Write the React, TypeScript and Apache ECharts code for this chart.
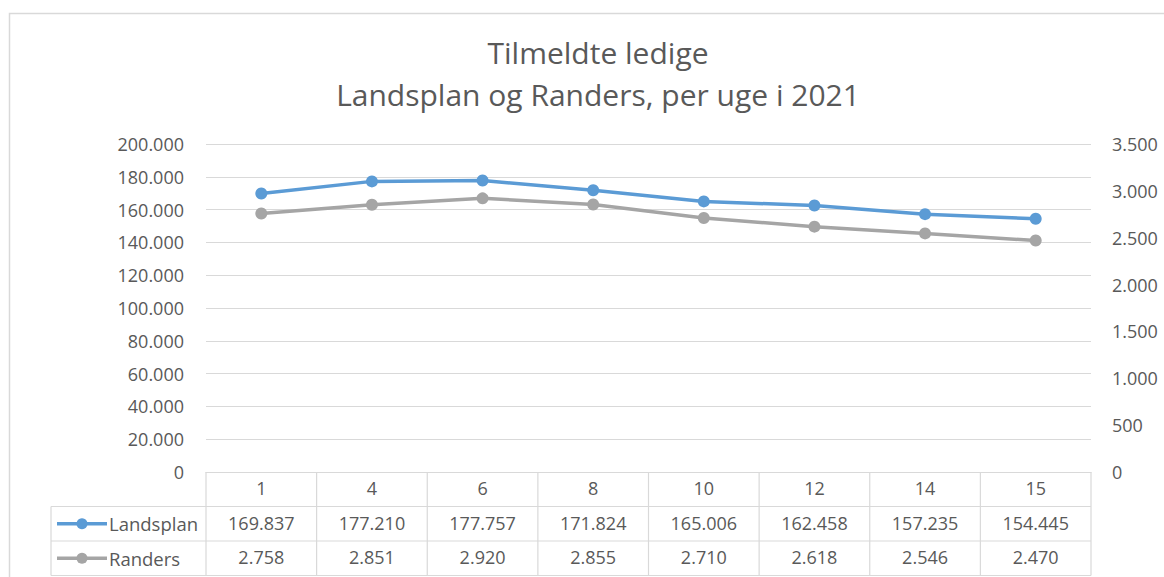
import React, { useEffect, useRef } from "react";
import * as echarts from "echarts";

const weeks = ["1", "4", "6", "8", "10", "12", "14", "15"];
const landsplan = [169837, 177210, 177757, 171824, 165006, 162458, 157235, 154445];
const randers = [2758, 2851, 2920, 2855, 2710, 2618, 2546, 2470];
const seriesNames = ["Landsplan", "Randers"];
const titleLines = ["Tilmeldte ledige", "Landsplan og Randers, per uge i 2021"];

const BLUE = "#5B9BD5";
const GRAY = "#A5A5A5";
const TXT = "#595959";
const LINE = "#D9D9D9";
const FONT = "Open Sans";

const fmt = (v: number) => String(Math.round(v)).replace(/\B(?=(\d{3})+(?!\d))/g, ".");

const G_LEFT = 206;
const G_RIGHT_X = 1091;
const G_TOP = 144;
const G_BOTTOM_Y = 472;
const ROW_H = 34.5;

export default function App() {
  const ref = useRef<HTMLDivElement>(null);
  useEffect(() => {
    const chart = echarts.init(ref.current!, null, { renderer: "svg" });
    const W = 1164, H = 577;
    const tableBottom = G_BOTTOM_Y + ROW_H * 3;
    const legendLeft = 51;
    const colW = (G_RIGHT_X - G_LEFT) / weeks.length;

    const graphics: any[] = [
      { type: "rect", shape: { x: 9.5, y: 13.5, width: 1300, height: 700 }, style: { fill: "none", stroke: LINE, lineWidth: 1.5 }, silent: true },
    ];
    graphics.push({ type: "line", shape: { x1: legendLeft, y1: G_BOTTOM_Y + ROW_H, x2: G_RIGHT_X, y2: G_BOTTOM_Y + ROW_H }, style: { stroke: LINE, lineWidth: 1.2 } });
    graphics.push({ type: "line", shape: { x1: legendLeft, y1: G_BOTTOM_Y + ROW_H * 2, x2: G_RIGHT_X, y2: G_BOTTOM_Y + ROW_H * 2 }, style: { stroke: LINE, lineWidth: 1.2 } });
    graphics.push({ type: "line", shape: { x1: legendLeft, y1: tableBottom, x2: G_RIGHT_X, y2: tableBottom }, style: { stroke: LINE, lineWidth: 1.2 } });
    graphics.push({ type: "line", shape: { x1: legendLeft, y1: G_BOTTOM_Y + ROW_H, x2: legendLeft, y2: tableBottom }, style: { stroke: LINE, lineWidth: 1.2 } });
    for (let i = 0; i <= weeks.length; i++) {
      const x = G_LEFT + colW * i;
      graphics.push({ type: "line", shape: { x1: x, y1: G_BOTTOM_Y, x2: x, y2: tableBottom }, style: { stroke: LINE, lineWidth: 1.2 } });
    }
    [BLUE, GRAY].forEach((c, i) => {
      const cy = G_BOTTOM_Y + ROW_H * (i + 1.5);
      graphics.push({ type: "line", shape: { x1: 57, y1: cy, x2: 107, y2: cy }, style: { stroke: c, lineWidth: 3.5 } });
      graphics.push({ type: "circle", shape: { cx: 82, cy, r: 5.5 }, style: { fill: c } });
      graphics.push({ type: "text", x: 109, y: cy, style: { text: seriesNames[i], fill: TXT, font: `18.5px "${FONT}"`, textVerticalAlign: "middle" } });
    });

    const tableAxis = (data: string[], offset: number, idx: number) => ({
      type: "category",
      data,
      position: "bottom",
      offset,
      gridIndex: 0,
      axisLine: { show: idx === 0, lineStyle: { color: LINE, width: 1.2 } },
      axisTick: { show: false },
      axisLabel: { color: TXT, fontSize: 18, fontFamily: FONT, margin: 7, interval: 0 },
      splitLine: { show: false },
    });

    chart.setOption({
      animation: false,
      title: {
        text: titleLines.join("\n"),
        left: 593,
        top: 26,
        textAlign: "center",
        textStyle: { color: TXT, fontSize: 30, fontWeight: "normal", fontFamily: FONT, lineHeight: 42 },
      },
      grid: { left: G_LEFT, right: W - G_RIGHT_X, top: G_TOP, bottom: H - G_BOTTOM_Y, containLabel: false },
      xAxis: [
        tableAxis(weeks, 0, 0),
        tableAxis(landsplan.map(fmt), ROW_H, 1),
        tableAxis(randers.map(fmt), ROW_H * 2, 2),
      ],
      yAxis: [
        {
          type: "value", min: 0, max: 200000, interval: 20000, position: "left",
          axisLine: { show: false }, axisTick: { show: false },
          axisLabel: { color: TXT, fontSize: 18, fontFamily: FONT, margin: 22, formatter: (v: number) => fmt(v) },
          splitLine: { lineStyle: { color: LINE, width: 1.2 } },
        },
        {
          type: "value", min: 0, max: 3500, interval: 500, position: "right",
          axisLine: { show: false }, axisTick: { show: false },
          axisLabel: { color: TXT, fontSize: 18, fontFamily: FONT, margin: 21, formatter: (v: number) => fmt(v) },
          splitLine: { show: false },
        },
      ],
      series: [
        {
          name: seriesNames[0], type: "line", data: landsplan, xAxisIndex: 0, yAxisIndex: 0,
          symbol: "circle", symbolSize: 12, lineStyle: { color: BLUE, width: 3.5 }, itemStyle: { color: BLUE },
        },
        {
          name: seriesNames[1], type: "line", data: randers, xAxisIndex: 0, yAxisIndex: 1,
          symbol: "circle", symbolSize: 12, lineStyle: { color: GRAY, width: 3.5 }, itemStyle: { color: GRAY },
        },
      ],
      graphic: graphics,
    });
    return () => chart.dispose();
  }, []);
  return <div ref={ref} style={{ position: "absolute", left: 0, top: 0, width: 1164, height: 577, background: "#fff" }} />;
}
